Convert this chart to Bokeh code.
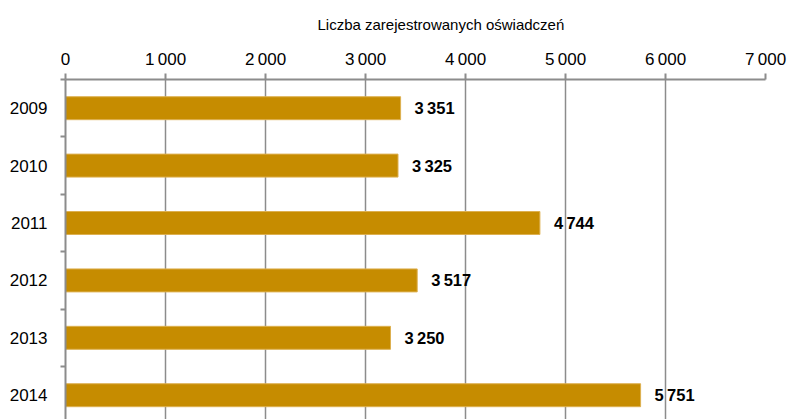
from bokeh.plotting import figure
from bokeh.models import Range1d, FixedTicker, ColumnDataSource, Title
from bokeh.core.properties import value
from bokeh.embed import file_html
from bokeh.resources import INLINE

years = ["2009", "2010", "2011", "2012", "2013", "2014"]
counts = [3351, 3325, 4744, 3517, 3250, 5751]
x_ticks = [0, 1000, 2000, 3000, 4000, 5000, 6000, 7000]
x_tick_labels = ["0", "1\u2009000", "2\u2009000", "3\u2009000", "4\u2009000", "5\u2009000", "6\u2009000", "7\u2009000"]
axis_title = "Liczba zarejestrowanych oświadczeń"

FONT = "Liberation Sans"
GRAY = "#8c8c8c"
BAR = "#C68C00"

idx = list(range(len(years)))
labels = [f"{c:,}".replace(",", "\u2009") for c in counts]
src = ColumnDataSource(dict(y=idx, v=counts, lab=labels))

p = figure(width=788, height=419, output_backend="svg", toolbar_location=None,
           x_range=Range1d(0, 7000), y_range=Range1d(5.423, -0.5),
           x_axis_location="above", min_border_left=65, min_border_right=23,
           min_border_top=79, min_border_bottom=0)
p.outline_line_color = None

p.hbar(y="y", right="v", left=0, height=0.4, source=src,
       fill_color=BAR, line_color="#DDB050", line_width=1)
p.text(x="v", y="y", text="lab", source=src, x_offset=14,
       text_baseline="middle", text_align="left",
       text_font=value(FONT), text_font_size="16.5px", text_font_style="bold",
       text_color="#000000")

xa = p.xaxis[0]
xa.ticker = FixedTicker(ticks=x_ticks)
xa.major_label_overrides = {t: l for t, l in zip(x_ticks, x_tick_labels)}
xa.major_label_text_font = FONT
xa.major_label_text_font_size = "17px"
xa.major_label_text_color = "#000000"
xa.major_label_standoff = 5
xa.major_tick_out = 6
xa.major_tick_in = 0
xa.minor_tick_out = 0
xa.minor_tick_in = 0
xa.axis_line_color = GRAY
xa.axis_line_width = 2
xa.major_tick_line_color = GRAY
xa.major_tick_line_width = 2

t = Title(text=axis_title, align="left", offset=252, vertical_align="top",
          text_font=FONT, text_font_size="15px", text_font_style="normal",
          text_color="#000000", standoff=24)
p.add_layout(t, "above")

ya = p.yaxis[0]
ya.ticker = FixedTicker(ticks=idx, minor_ticks=[i - 0.5 for i in idx] + [5.5])
ya.major_label_overrides = {i: y for i, y in zip(idx, years)}
ya.major_label_text_font = FONT
ya.major_label_text_font_size = "17px"
ya.major_label_text_color = "#000000"
ya.major_label_standoff = 13
ya.major_tick_out = 0
ya.major_tick_in = 0
ya.minor_tick_out = 5
ya.minor_tick_in = 0
ya.minor_tick_line_color = GRAY
ya.minor_tick_line_width = 2
ya.axis_line_color = GRAY
ya.axis_line_width = 2

p.xgrid.ticker = FixedTicker(ticks=x_ticks)
p.xgrid.grid_line_color = GRAY
p.xgrid.grid_line_width = 1.5
p.ygrid.grid_line_color = None

open("out.html", "w").write(file_html(p, INLINE))
